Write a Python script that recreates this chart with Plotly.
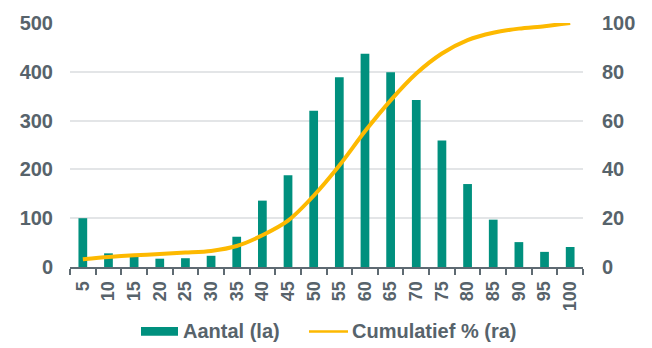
import plotly.graph_objects as go

# Score classes on the horizontal axis
categories = ["5", "10", "15", "20", "25", "30", "35", "40", "45", "50",
              "55", "60", "65", "70", "75", "80", "85", "90", "95", "100"]

# Count per class (left axis)
aantal = [100, 28, 22, 17, 18, 23, 62, 136, 188, 320,
          389, 437, 399, 342, 259, 170, 97, 51, 31, 41]

# Cumulative share in percent (right axis)
cumulatief = [3.2, 4.1, 4.8, 5.3, 5.9, 6.6, 8.6, 13.0, 19.0, 29.2,
              41.6, 55.6, 68.3, 79.3, 87.5, 93.0, 96.0, 97.7, 98.7, 100.0]

left_ticks = [0, 100, 200, 300, 400, 500]
right_ticks = [0, 20, 40, 60, 80, 100]

TEAL = "#00907E"
GOLD = "#FDB900"
TEXT = "#57636B"
GRID = "#E3E5E7"
FONT = "Liberation Sans, Arial, sans-serif"

fig = go.Figure()
fig.add_trace(go.Bar(x=categories, y=aantal, name="Aantal (la)",
                     marker=dict(color=TEAL, line=dict(width=0)),
                     yaxis="y"))
fig.add_trace(go.Scatter(x=categories, y=cumulatief, name="Cumulatief % (ra)",
                         mode="lines", line=dict(color=GOLD, width=4, shape="spline", smoothing=0.8),
                         yaxis="y2"))

W, H = 652, 348
L, R, T, B = 70, 69, 19, 81
pw, ph = W - L - R, H - T - B


def px(x):
    return (x - L) / pw


def py(y):
    return (H - B - y) / ph


tickfont = dict(family=FONT, size=20, color=TEXT, weight="bold")
legfont = dict(family=FONT, size=20, color=TEXT, weight="bold")

fig.update_layout(
    width=W, height=H,
    margin=dict(l=L, r=R, t=T, b=B, pad=0),
    paper_bgcolor="white", plot_bgcolor="white",
    showlegend=False,
    bargap=0.66,
    font=dict(family=FONT, color=TEXT),
    xaxis=dict(type="category", tickangle=-90,
               tickfont=dict(family=FONT, size=18, color=TEXT, weight="bold"),
               showline=True, linecolor="#5E6A72", linewidth=2,
               ticks="outside", ticklen=6, tickwidth=2, tickcolor="#5E6A72",
               tickson="boundaries", showgrid=False, zeroline=False,
               ticklabelstandoff=5),
    yaxis=dict(range=[0, 500], tickvals=left_ticks, tickfont=tickfont,
               showgrid=True, gridcolor=GRID, gridwidth=1.5, zeroline=False,
               showline=False, ticks="", ticklabelstandoff=16),
    yaxis2=dict(range=[0, 100], tickvals=right_ticks, tickfont=tickfont,
                overlaying="y", side="right", showgrid=False, zeroline=False,
                showline=False, ticks="", ticklabelstandoff=18),
    shapes=[
        dict(type="rect", xref="paper", yref="paper",
             x0=px(141), x1=px(178), y0=py(328), y1=py(337),
             fillcolor=TEAL, line=dict(width=0)),
        dict(type="line", xref="paper", yref="paper",
             x0=px(309), x1=px(348), y0=py(332.5), y1=py(332.5),
             line=dict(color=GOLD, width=2.5)),
    ],
    annotations=[
        dict(text="Aantal (la)", xref="paper", yref="paper", x=px(181), y=py(332.5),
             xanchor="left", yanchor="middle", showarrow=False, font=legfont),
        dict(text="Cumulatief % (ra)", xref="paper", yref="paper", x=px(350), y=py(332.5),
             xanchor="left", yanchor="middle", showarrow=False, font=legfont),
    ],
)

fig.write_html("out.html")
